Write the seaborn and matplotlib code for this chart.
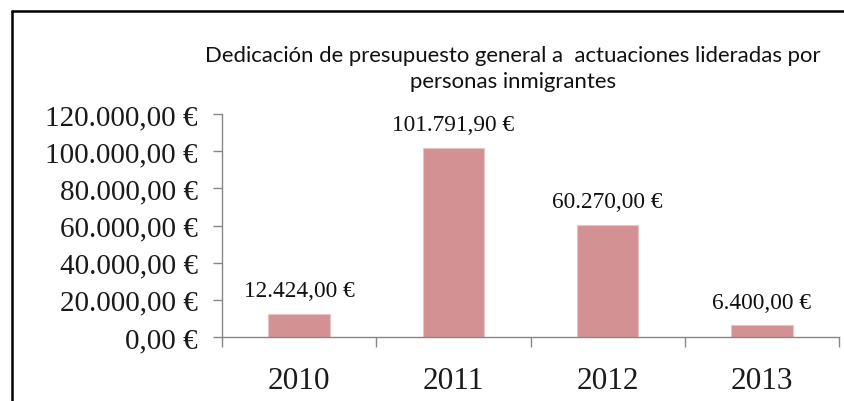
import matplotlib
matplotlib.use("Agg")
import matplotlib.pyplot as plt
import seaborn as sns
import pandas as pd
from matplotlib.ticker import FuncFormatter, FixedLocator
from matplotlib.lines import Line2D

years = ["2010", "2011", "2012", "2013"]
amounts = [12424.00, 101791.90, 60270.00, 6400.00]
title = "Dedicación de presupuesto general a  actuaciones lideradas por\npersonas inmigrantes"

df = pd.DataFrame({"year": years, "amount": amounts})

sns.set_theme(style="white")
plt.rcParams["font.family"] = ["Liberation Serif", "DejaVu Serif"]

fig = plt.figure(figsize=(8.45, 4.02), dpi=100)
ax = fig.add_axes([222 / 845, 1 - 338 / 402, (839 - 222) / 845, (338 - 115) / 402])

sns.barplot(data=df, x="year", y="amount", ax=ax, color="#D39193",
            width=0.4, saturation=1, edgecolor="#E8C4C4", linewidth=0.8)

def euro(v, pos=None):
    s = f"{v:,.2f}"
    s = s.replace(",", "X").replace(".", ",").replace("X", ".")
    return s + " €"

ax.set_ylim(0, 120000)
ax.set_xlim(-0.5, 3.5)
ax.yaxis.set_major_locator(FixedLocator(list(range(0, 120001, 20000))))
ax.yaxis.set_major_formatter(FuncFormatter(euro))
ax.set_xlabel("")
ax.set_ylabel("")

for sp in ["top", "right"]:
    ax.spines[sp].set_visible(False)
for sp in ["left", "bottom"]:
    ax.spines[sp].set_color("#868686")
    ax.spines[sp].set_linewidth(1.0)

ax.tick_params(axis="y", which="major", left=True, length=6.5, width=1,
               color="#868686", pad=11, labelsize=21, labelcolor="#1a1a1a")
ax.set_xticks([-0.5, 0.5, 1.5, 2.5, 3.5], minor=True)
ax.tick_params(axis="x", which="minor", bottom=True, length=7.5, width=1, color="#868686")
ax.tick_params(axis="x", which="major", bottom=False, length=0, pad=21,
               labelsize=22.5, labelcolor="#1a1a1a")

for i, v in enumerate(amounts):
    ax.annotate(euro(v), xy=(i, v), xytext=(0, 9), textcoords="offset points",
                ha="center", va="bottom", fontsize=16.8, color="#111111")

fig.text(513 / 845, 1 - 69 / 402, title, ha="center", va="center",
         fontsize=15.9, linespacing=1.35,
         family=["Lato", "DejaVu Sans"], color="#111111")

# border lines of the chart area (top and left)
fig.add_artist(Line2D([12 / 845, 1.0], [1 - 12 / 402, 1 - 12 / 402],
                      transform=fig.transFigure, color="black", linewidth=1.8))
fig.add_artist(Line2D([12 / 845, 12 / 845], [0.0, 1 - 12 / 402],
                      transform=fig.transFigure, color="black", linewidth=1.8))

fig.savefig("out.png", dpi=100, facecolor="white")
